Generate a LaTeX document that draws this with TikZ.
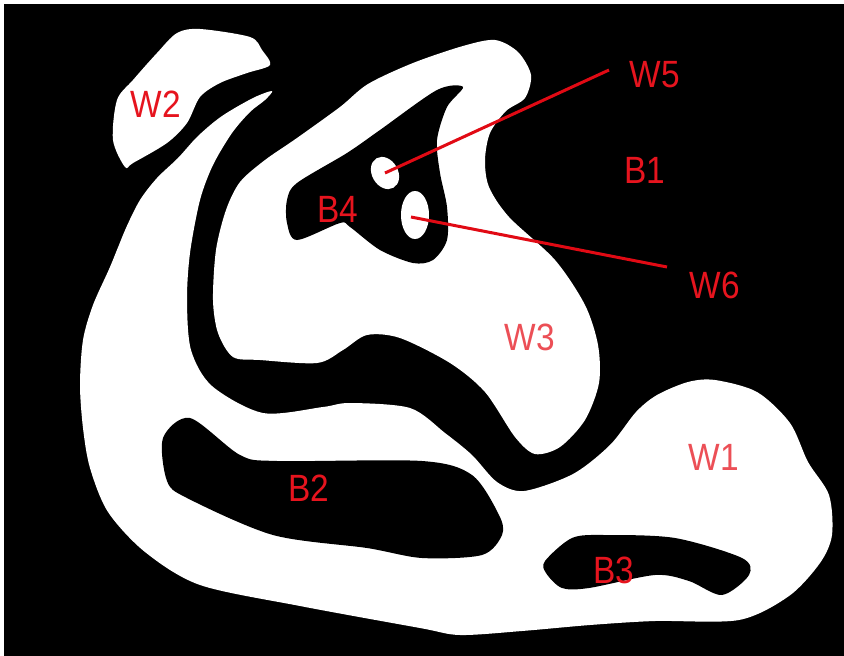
\documentclass[tikz,border=0pt]{standalone}
\usepackage{fontspec}
\setsansfont{Liberation Sans}
\usepackage{tikz}
\usetikzlibrary{calc}
\definecolor{labelred}{RGB}{230,20,30}
\definecolor{leadred}{RGB}{225,10,20}

\begin{document}
\begin{tikzpicture}[
  x=1pt, y=-1pt,
  lbl/.style={text=labelred, font=\sffamily\fontsize{38}{38}\selectfont, xscale=.88, inner sep=0pt},
  lead/.style={draw=leadred, line width=3pt},
  whiteblob/.style={fill=white},
  blackblob/.style={fill=black}
]
\useasboundingbox (0,0) rectangle (844,656);
\fill[white] (0,0) rectangle (844,656);
\fill[black] (4,4) rectangle (844,656);

% white regions and black islands
\fill[whiteblob] plot[smooth cycle, tension=.5] coordinates {(177,33) (200,29) (250,37) (262,50) (270,65) (247,73) (220,83) (200,97) (187,123) (167,143) (133,163) (125,167) (113,140) (117,100) (133,80) (157,53)};
\fill[whiteblob] plot[smooth cycle, tension=.5] coordinates {(272,91) (253,98) (222,116) (198,136) (178,158) (157,178) (140,200) (126,228) (110,267) (93,305) (83,340) (80,385) (83,428) (90,468) (108,512) (145,552) (200,585) (300,606) (420,628) (460,635) (522,631) (590,625) (655,621) (739,620) (789,596) (820,563) (832,535) (829,495) (808,462) (790,423) (757,392) (715,380) (688,382) (657,395) (636,412) (610,445) (573,474) (524,491) (497,482) (472,455) (445,433) (410,408) (350,403) (323,407) (263,413) (212,386) (191,350) (187,300) (190,253) (200,200) (213,165) (232,133) (250,112) (265,100)};
\fill[blackblob] plot[smooth cycle, tension=.5] coordinates {(163,438) (190,418) (240,455) (277,461) (422,461) (472,475) (499,515) (502,535) (482,555) (422,558) (367,548) (273,535) (187,498) (167,481)};
\fill[blackblob] plot[smooth cycle, tension=.5] coordinates {(545,561) (572,538) (605,535) (675,538) (742,558) (749,575) (722,595) (689,581) (655,575) (589,588) (562,588) (546,573)};
\fill[whiteblob] plot[smooth cycle, tension=.5] coordinates {(240,182) (265,160) (297,138) (340,107) (368,84) (413,63) (463,46) (495,40) (518,52) (531,75) (525,98) (506,111) (490,133) (485,160) (489,187) (509,217) (555,260) (585,305) (598,345) (599,383) (585,420) (560,447) (535,454) (515,437) (485,392) (450,363) (400,338) (367,335) (343,350) (317,363) (260,360) (233,357) (218,333) (213,300) (216,250) (226,210)};
\fill[blackblob] plot[smooth cycle, tension=.5] coordinates {(287,200) (297,183) (347,153) (380,130) (437,90) (463,87) (447,107) (437,140) (440,173) (447,207) (447,240) (433,260) (413,263) (380,250) (350,227) (340,223) (297,240) (287,223)};
\fill[whiteblob, rotate around={30:(385,173)}] (385,173) ellipse[x radius=13, y radius=17];
\fill[whiteblob] (415,215) ellipse[x radius=14, y radius=24];

% leader lines
\coordinate (w5hole) at (385,173);
\coordinate (w5tip)  at (609,70);
\coordinate (w6hole) at (411,217);
\coordinate (w6tip)  at (667,267);
\draw[lead] (w5hole) -- (w5tip);
\draw[lead] (w6hole) -- (w6tip);

\node[lbl] (W2) at (156,104) {W2};
\node[lbl] (B4) at (338,209) {B4};
\node[lbl] (W5) at (655,75)  {W5};
\node[lbl] (B1) at (645,170) {B1};
\node[lbl] (W6) at (715,285) {W6};
\node[lbl, text=labelred!75] (W3) at (530,337) {W3};
\node[lbl, text=labelred!75] (W1) at (714,457) {W1};
\node[lbl] (B2) at (309,488) {B2};
\node[lbl] (B3) at (614,570) {B3};
\end{tikzpicture}
\end{document}
